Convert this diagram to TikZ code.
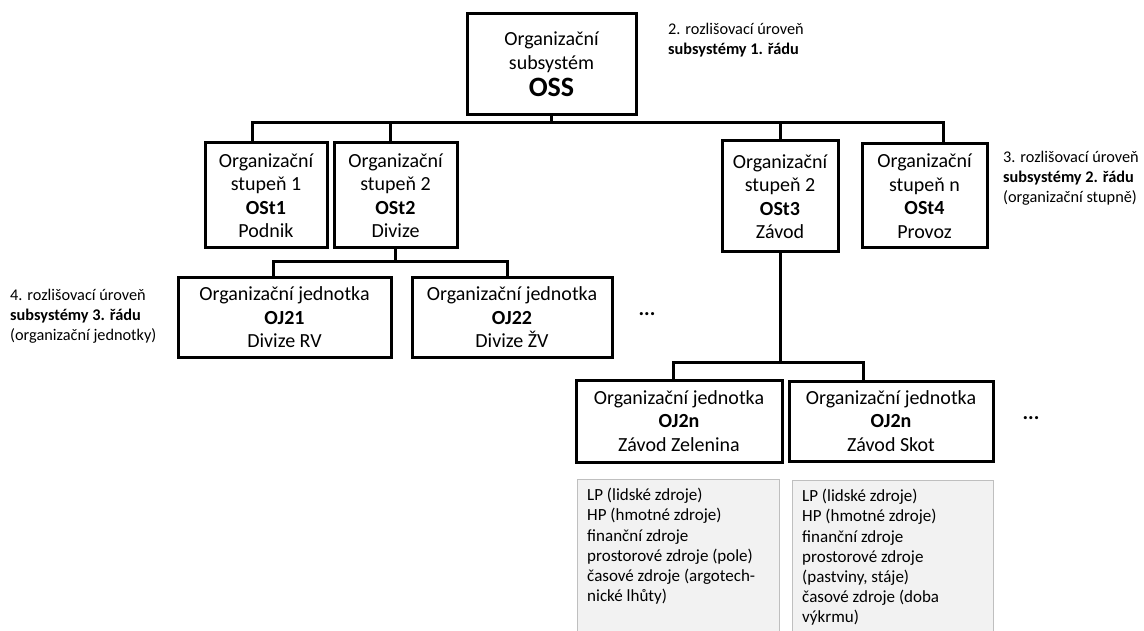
\documentclass[tikz,border=0pt]{standalone}
\usepackage{fontspec}
\setmainfont{Carlito}
\begin{document}
\begin{tikzpicture}[x=1pt,y=-1pt,
  unit/.style={draw=black, line width=3pt, fill=white, inner sep=0pt,
    align=center, font=\fontsize{20}{23.5}\selectfont},
  conn/.style={draw=black, line width=3pt},
  resbox/.style={draw=black!25, line width=1.2pt, fill=black!5, inner sep=0pt},
  restext/.style={inner sep=0pt, align=left, font=\fontsize{17}{20.2}\selectfont},
  level/.style={inner sep=0pt, align=left, font=\fontsize{16.3}{20}\selectfont},
  more/.style={inner sep=0pt, font=\fontsize{21}{22}\selectfont\bfseries}]
\useasboundingbox (0,0) rectangle (1144,631);

% top-level subsystem
\node[unit, minimum width=169, minimum height=101] (oss) at (551.5,64.5)
  {Organizační\\subsystém\\[4pt]{\fontsize{28}{28}\selectfont\bfseries OSS}};

% organisational levels
\node[unit, minimum width=122, minimum height=105] (ost1) at (266,195.5)
  {Organizační\\stupeň 1\\\textbf{OSt1}\\Podnik};
\node[unit, minimum width=123, minimum height=105] (ost2) at (395.5,195.5)
  {Organizační\\stupeň 2\\\textbf{OSt2}\\Divize};
\node[unit, minimum width=116, minimum height=111] (ost3) at (780,196.5)
  {Organizační\\stupeň 2\\\textbf{OSt3}\\Závod};
\node[unit, minimum width=125, minimum height=104] (ost4) at (924.5,196)
  {Organizační\\stupeň n\\\textbf{OSt4}\\Provoz};

% organisational units
\node[unit, minimum width=213, minimum height=79] (oj21) at (284.5,317.5)
  {Organizační jednotka\\\textbf{OJ21}\\Divize RV};
\node[unit, minimum width=200, minimum height=79] (oj22) at (512,317.5)
  {Organizační jednotka\\\textbf{OJ22}\\Divize ŽV};
\node[unit, minimum width=206, minimum height=82] (ojz) at (679,421)
  {Organizační jednotka\\\textbf{OJ2n}\\Závod Zelenina};
\node[unit, minimum width=204, minimum height=80] (ojs) at (891,421)
  {Organizační jednotka\\\textbf{OJ2n}\\Závod Skot};

\node[more] (dots1) at (647,314) {...};
\node[more] (dots2) at (1031,418) {...};

% connectors
\coordinate (busL) at (252,123);
\coordinate (busR) at (943,123);
\draw[conn] (busL |- ost1.north) -- (busL) -- (busR) -- (busR |- ost4.north);
\draw[conn] (oss.south) -- (oss.south |- busL);
\draw[conn] ([xshift=-5]ost2.north) -- ([xshift=-5]ost2.north |- busL);
\draw[conn] (ost3.north) -- (ost3.north |- busL);

\coordinate (subL) at (273,262);
\coordinate (subR) at (507,262);
\draw[conn] (ost2.south) -- (ost2.south |- subL);
\draw[conn] (subL |- oj21.north) -- (subL) -- (subR) -- (subR |- oj22.north);

\coordinate (zavL) at (673,362);
\coordinate (zavR) at (863,362);
\draw[conn] (ost3.south) -- (ost3.south |- zavL);
\draw[conn] (zavL |- ojz.north) -- (zavL) -- (zavR) -- (zavR |- ojs.north);

% resources of the units
\node[resbox, anchor=north west, minimum width=202, minimum height=170] (res1) at (577,479) {};
\node[restext, anchor=north west] (res1t) at ([xshift=10,yshift=-9]res1.north west)
  {LP (lidské zdroje)\\HP (hmotné zdroje)\\finanční zdroje\\prostorové zdroje (pole)\\časové zdroje (argotech-\\nické lhůty)};
\node[resbox, anchor=north west, minimum width=201, minimum height=170] (res2) at (792,480) {};
\node[restext, anchor=north west] (res2t) at ([xshift=10,yshift=-9]res2.north west)
  {LP (lidské zdroje)\\HP (hmotné zdroje)\\finanční zdroje\\prostorové zdroje\\(pastviny, stáje)\\časové zdroje (doba\\výkrmu)};

% level descriptions
\node[level, anchor=west] (lev2) at (668,40)
  {2. rozlišovací úroveň\\\textbf{subsystémy 1. řádu}};
\node[level, anchor=west] (lev3) at (1003,178)
  {3. rozlišovací úroveň\\\textbf{subsystémy 2. řádu}\\(organizační stupně)};
\node[level, anchor=west] (lev4) at (10,316)
  {4. rozlišovací úroveň\\\textbf{subsystémy 3. řádu}\\(organizační jednotky)};
\end{tikzpicture}
\end{document}
